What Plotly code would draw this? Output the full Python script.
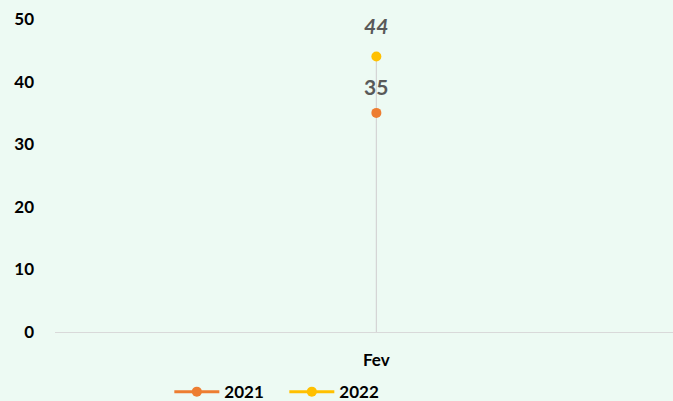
import plotly.graph_objects as go

categories = ["Fev"]
values_2021 = [35]
values_2022 = [44]
series_names = ["2021", "2022"]
y_ticks = [0, 10, 20, 30, 40, 50]

BG = "#EDFAF3"
FONT = "Lato, Arial"
fig = go.Figure()

# drop line from axis to highest point
top = max(values_2021 + values_2022)
fig.add_trace(go.Scatter(
    x=[categories[0], categories[0]], y=[0, top], mode="lines",
    line=dict(color="#D4D4D4", width=1.2), showlegend=False, hoverinfo="skip"))

fig.add_trace(go.Scatter(
    x=categories, y=values_2021, name=series_names[0], mode="lines+markers",
    line=dict(color="#ED7D31", width=3), marker=dict(size=10, color="#ED7D31")))

fig.add_trace(go.Scatter(
    x=categories, y=values_2022, name=series_names[1], mode="lines+markers",
    line=dict(color="#FFC000", width=3), marker=dict(size=10, color="#FFC000")))

for c, v in zip(categories, values_2021):
    fig.add_annotation(x=c, y=v, text=str(v), showarrow=False, yshift=26,
                       font=dict(family=FONT, size=21, color="#595959", weight="bold"))
for c, v in zip(categories, values_2022):
    fig.add_annotation(x=c, y=v, text=str(v), showarrow=False, yshift=31,
                       font=dict(family=FONT, size=21, color="#595959", weight="bold", style="italic"))

fig.update_layout(
    width=673, height=401,
    margin=dict(l=55, r=0, t=19, b=69, autoexpand=False),
    paper_bgcolor=BG, plot_bgcolor=BG,
    font=dict(family=FONT, color="#000000"),
    showlegend=True,
    legend=dict(orientation="h", x=0.185, xanchor="left", y=-0.192, yanchor="middle",
                font=dict(size=17, weight="bold", color="#000000"),
                bgcolor="rgba(0,0,0,0)", itemwidth=45, entrywidth=55, entrywidthmode="pixels"),
    xaxis=dict(type="category", range=[-0.52, 0.48], showgrid=False, zeroline=False,
               showline=True, linecolor="#D9D9D9", linewidth=1.2, ticks="",
               tickfont=dict(size=17, weight="bold", color="#000000"), ticklabelstandoff=12),
    yaxis=dict(range=[0, 50], tickvals=y_ticks, showgrid=False, zeroline=False,
               showline=False, tickfont=dict(size=17, weight="bold", color="#000000"),
               ticklabelstandoff=20),
)

fig.write_html("out.html", config={"displayModeBar": False},
               post_script="document.body.style.margin='0px';document.body.style.overflow='hidden';")
